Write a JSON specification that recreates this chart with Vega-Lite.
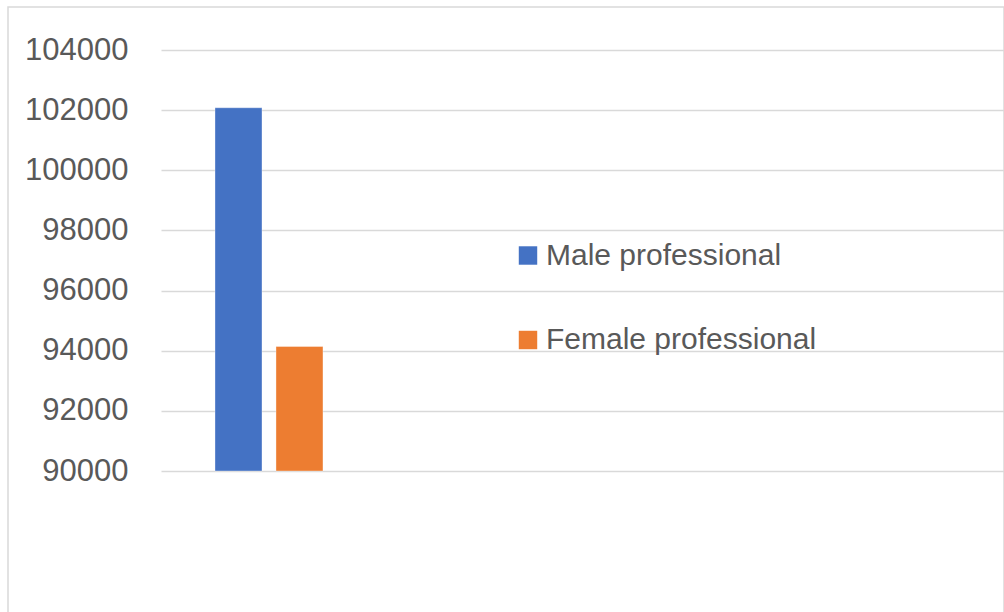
{
  "$schema": "https://vega.github.io/schema/vega-lite/v6.json",
  "autosize": {"type": "none"},
  "padding": {"left": 8, "top": 7, "right": 0, "bottom": 0},
  "width": 996,
  "height": 606,
  "background": "#ffffff",
  "config": {
    "view": {"stroke": "#d9d9d9", "strokeWidth": 1.5},
    "font": "Liberation Sans"
  },
  "data": {
    "values": [
      {"category": "Salary", "group": "Male professional", "salary": 102080},
      {"category": "Salary", "group": "Female professional", "salary": 94140}
    ]
  },
  "mark": {"type": "bar", "stroke": "#ffffff", "strokeOpacity": 0.35, "strokeWidth": 1},
  "encoding": {
    "x": {
      "field": "category",
      "type": "nominal",
      "axis": null,
      "scale": {"paddingInner": 0.7568, "paddingOuter": 1, "align": 0.2331}
    },
    "xOffset": {
      "field": "group",
      "type": "nominal",
      "sort": ["Male professional", "Female professional"],
      "scale": {"paddingInner": 0.2295, "paddingOuter": 0}
    },
    "y": {
      "field": "salary",
      "type": "quantitative",
      "scale": {"domain": [85278, 105430], "nice": false, "zero": false},
      "axis": {
        "orient": "left",
        "offset": -996,
        "values": [90000, 92000, 94000, 96000, 98000, 100000, 102000, 104000],
        "format": "d",
        "grid": false,
        "domain": false,
        "ticks": true,
        "tickSize": 843,
        "tickColor": "#d9d9d9",
        "tickWidth": 1.5,
        "labelPadding": 33,
        "labelFont": "Liberation Sans",
        "labelFontSize": 31,
        "labelColor": "#595959",
        "title": null
      }
    },
    "y2": {"datum": 90000},
    "color": {
      "field": "group",
      "type": "nominal",
      "scale": {"domain": ["Male professional", "Female professional"], "range": ["#4472C4", "#ED7D31"]},
      "legend": {
        "orient": "none",
        "legendX": 505,
        "legendY": 233.5,
        "title": null,
        "padding": 0,
        "symbolType": "square",
        "symbolSize": 340,
        "symbolStrokeWidth": 0,
        "labelFont": "Liberation Sans",
        "labelFontSize": 30,
        "labelColor": "#595959",
        "labelOffset": 3,
        "labelLimit": 0,
        "rowPadding": 54.5
      }
    }
  }
}
